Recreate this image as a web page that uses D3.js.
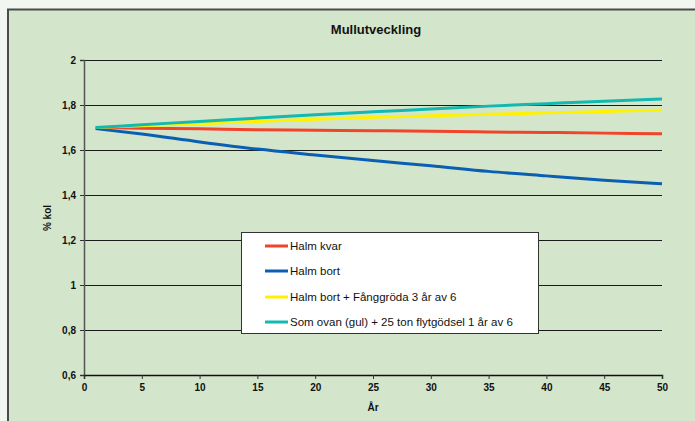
<!DOCTYPE html>
<html>
<head>
<meta charset="utf-8">
<script src="https://cdn.jsdelivr.net/npm/d3@7"></script>
<style>
  html, body { margin: 0; padding: 0; background: #f2f6f1; }
  svg { display: block; }
  text { font-family: "Liberation Sans", Arial, sans-serif; }
</style>
</head>
<body>
<div id="chart"></div>
<script>
const title = "Mullutveckling";
const yLabel = "% kol";
const xLabel = "År";
const years = [1, 5, 10, 15, 20, 25, 30, 35, 40, 45, 50];
const halmKvar = [1.700, 1.697, 1.694, 1.690, 1.688, 1.686, 1.683, 1.680, 1.678, 1.675, 1.672];
const halmBort = [1.695, 1.671, 1.636, 1.604, 1.578, 1.553, 1.530, 1.505, 1.485, 1.466, 1.450];
const fanggroda = [1.700, 1.708, 1.717, 1.727, 1.737, 1.745, 1.752, 1.759, 1.765, 1.771, 1.777];
const flytgodsel = [1.700, 1.712, 1.727, 1.742, 1.757, 1.770, 1.782, 1.795, 1.806, 1.817, 1.827];
const seriesNames = ["Halm kvar", "Halm bort", "Halm bort + Fånggröda 3 år av 6", "Som ovan (gul) + 25 ton flytgödsel 1 år av 6"];
const seriesColors = ["#f0452a", "#0b5fb2", "#fff200", "#12b9b0"];
const xTicks = [0, 5, 10, 15, 20, 25, 30, 35, 40, 45, 50];
const yTicks = [0.6, 0.8, 1, 1.2, 1.4, 1.6, 1.8, 2];

const W = 695, H = 421;
const svg = d3.select("#chart").append("svg").attr("width", W).attr("height", H);

// panel
svg.append("rect").attr("x", 8).attr("y", 9.5).attr("width", W + 10).attr("height", H + 10)
  .attr("fill", "#d3e5cb").attr("stroke", "#4a4a4a").attr("stroke-width", 2);

const x = d3.scaleLinear().domain([0, 50]).range([84, 662]);
const y = d3.scaleLinear().domain([0.6, 2]).range([375, 60]);
const fmt = d => String(d).replace(".", ",");

// gridlines
svg.append("g").selectAll("line").data(yTicks.slice(1)).join("line")
  .attr("x1", x(0)).attr("x2", x(50))
  .attr("y1", d => Math.round(y(d)) + 0.5).attr("y2", d => Math.round(y(d)) + 0.5)
  .attr("stroke", "#1a1a1a").attr("stroke-width", 1);

// y axis
const yAxis = svg.append("g").attr("transform", `translate(${x(0)},0)`)
  .call(d3.axisLeft(y).tickValues(yTicks).tickFormat(fmt).tickSize(4).tickPadding(4));
yAxis.select(".domain").attr("stroke", "#555").attr("stroke-width", 1.5);
yAxis.selectAll(".tick line").attr("stroke", "#333");
yAxis.selectAll("text").attr("font-size", 10).attr("font-weight", "bold").attr("fill", "#111")
  .attr("font-family", "Liberation Sans, Arial, sans-serif");

// x axis
const xAxis = svg.append("g").attr("transform", `translate(0,${y(0.6)})`)
  .call(d3.axisBottom(x).tickValues(xTicks).tickSize(4).tickPadding(5));
xAxis.select(".domain").attr("stroke", "#111").attr("stroke-width", 1.5);
xAxis.selectAll(".tick line").attr("stroke", "#333");
xAxis.selectAll("text").attr("font-size", 10).attr("font-weight", "bold").attr("fill", "#111")
  .attr("font-family", "Liberation Sans, Arial, sans-serif");

// lines
const data = [halmKvar, halmBort, fanggroda, flytgodsel];
const line = d3.line().x((d, i) => x(years[i])).y(d => y(d)).curve(d3.curveMonotoneX);
const drawOrder = [1, 0, 2, 3];
drawOrder.forEach(k => {
  svg.append("path").datum(data[k]).attr("d", line)
    .attr("fill", "none").attr("stroke", seriesColors[k]).attr("stroke-width", 3)
    .attr("stroke-linecap", "butt");
});

// title and labels
svg.append("text").attr("x", 376).attr("y", 34).attr("text-anchor", "middle")
  .attr("font-size", 13).attr("font-weight", "bold").attr("fill", "#111").text(title);
svg.append("text").attr("transform", "translate(51,218) rotate(-90)").attr("text-anchor", "middle")
  .attr("font-size", 10).attr("font-weight", "bold").attr("fill", "#111").text(yLabel);
svg.append("text").attr("x", 373).attr("y", 411).attr("text-anchor", "middle")
  .attr("font-size", 10).attr("font-weight", "bold").attr("fill", "#111").text(xLabel);

// legend
const lg = svg.append("g");
lg.append("rect").attr("x", 241.5).attr("y", 232.5).attr("width", 297).attr("height", 101)
  .attr("fill", "#fff").attr("stroke", "#333").attr("stroke-width", 1);
const rowY = [246, 271, 297, 322];
seriesNames.forEach((name, i) => {
  lg.append("line").attr("x1", 265).attr("x2", 288).attr("y1", rowY[i]).attr("y2", rowY[i])
    .attr("stroke", seriesColors[i]).attr("stroke-width", 3);
  lg.append("text").attr("x", 290).attr("y", rowY[i] + 4).attr("font-size", 11.5)
    .attr("fill", "#111").text(name);
});
</script>
</body>
</html>
